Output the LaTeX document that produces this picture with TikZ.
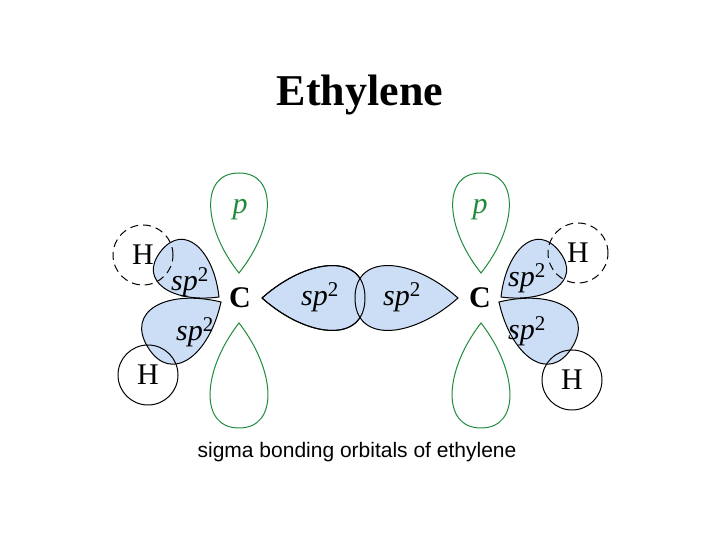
\documentclass[tikz,border=0pt]{standalone}
\usepackage{fontspec}
\setmainfont{Liberation Serif}
\newfontfamily\capfont{Liberation Sans}
\definecolor{lobeblue}{RGB}{204,221,246}
\definecolor{pgreen}{RGB}{30,140,60}
\newcommand\lobe[6]{\path[#5,shift={(#1,#2)},rotate=#3] (0,0) .. controls (0.45*#4,#6*#4) and (#4,1.1*#6*#4) .. (#4,0) .. controls (#4,-1.1*#6*#4) and (0.45*#4,-#6*#4) .. cycle;}
\tikzset{sp/.style={draw=black,fill=lobeblue,line width=1pt},
 pl/.style={draw=pgreen,line width=1pt},
 hatom/.style={circle,draw=black,line width=1pt,minimum size=60pt,inner sep=0pt,font=\fontsize{30}{30}\selectfont},
 lbl/.style={font=\fontsize{30}{30}\selectfont\itshape},
 plbl/.style={font=\fontsize{30}{30}\selectfont\itshape,text=pgreen}}
\begin{document}
\begin{tikzpicture}[x=1pt,y=1pt]
\useasboundingbox (0,0) rectangle (720,540);
\node (title) at (360,445) {\fontsize{44}{44}\selectfont\bfseries Ethylene};
\lobe{239}{267}{90}{100}{pl}{0.36}
\lobe{239}{217}{-90}{105}{pl}{0.35}
\lobe{481}{267}{90}{100}{pl}{0.36}
\lobe{481}{217}{-90}{105}{pl}{0.35}
\lobe{219}{243}{142}{74}{sp}{0.46}
\lobe{221}{238}{212}{86}{sp}{0.46}
\lobe{501}{243}{38}{74}{sp}{0.46}
\lobe{499}{238}{-32}{86}{sp}{0.46}
\lobe{262}{242}{0}{103}{sp}{0.4}
\lobe{458}{242}{180}{103}{sp}{0.4}
\draw[line width=1pt] (262,242) .. controls (308.35,283.2) and (365,287.3) .. (365,242) .. controls (365,196.7) and (308.35,200.8) .. (262,242);
\node[hatom,dashed,dash pattern=on 8pt off 5pt] (h1) at (143,285) {H};
\node[hatom] (h2) at (148,165) {H};
\node[hatom,dashed,dash pattern=on 8pt off 5pt] (h3) at (578,287) {H};
\node[hatom] (h4) at (572,160) {H};
\node[font=\fontsize{30}{30}\selectfont\bfseries] (c1) at (240,242) {C};
\node[font=\fontsize{30}{30}\selectfont\bfseries] (c2) at (480,242) {C};
\node[plbl] (p1) at (240,330) {p};
\node[plbl] (p2) at (480,330) {p};
\node[lbl] (s1) at (190,258) {sp$^{\mathrm{2}}$};
\node[lbl] (s2) at (195,208) {sp$^{\mathrm{2}}$};
\node[lbl] (s3) at (320,243) {sp$^{\mathrm{2}}$};
\node[lbl] (s4) at (402,243) {sp$^{\mathrm{2}}$};
\node[lbl] (s5) at (527,262) {sp$^{\mathrm{2}}$};
\node[lbl] (s6) at (527,209) {sp$^{\mathrm{2}}$};
\node (cap) at (357,88) {\capfont\fontsize{21}{21}\selectfont sigma bonding orbitals of ethylene};
\end{tikzpicture}
\end{document}
